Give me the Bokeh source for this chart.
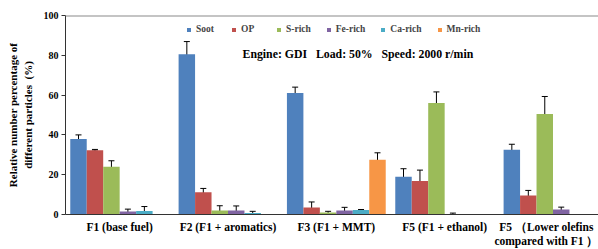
from bokeh.plotting import figure
from bokeh.models import (ColumnDataSource, Range1d, FixedTicker, Whisker, TeeHead,
                          Label, Legend, LegendItem, Span)
from bokeh.embed import file_html
from bokeh.resources import INLINE

# ---- data ----
categories = ["F1 (base fuel)", "F2 (F1 + aromatics)", "F3 (F1 + MMT)",
              "F5 (F1 + ethanol)", "F5 （Lower olefins\ncompared with F1 ）"]
series = ["Soot", "OP", "S-rich", "Fe-rich", "Ca-rich", "Mn-rich"]

soot = [38.0, 80.5, 61.0, 19.0, 32.5]
soot_err = [2.0, 6.4, 3.0, 4.0, 2.8]
op = [32.3, 11.2, 3.5, 16.8, 9.5]
op_err = [0.4, 1.9, 2.8, 5.5, 2.6]
s_rich = [24.0, 2.0, 1.0, 56.0, 50.5]
s_rich_err = [3.0, 2.4, 0.6, 5.6, 8.8]
fe_rich = [1.5, 2.0, 2.0, 0.2, 2.5]
fe_rich_err = [1.2, 2.3, 1.6, 0.5, 1.2]
ca_rich = [1.7, 0.8, 2.2, 0.0, 0.0]
ca_rich_err = [2.3, 0.8, 0.3, 0.0, 0.0]
mn_rich = [0.0, 0.0, 27.5, 0.0, 0.0]
mn_rich_err = [0.0, 0.0, 3.5, 0.0, 0.0]

values = [soot, op, s_rich, fe_rich, ca_rich, mn_rich]
errors = [soot_err, op_err, s_rich_err, fe_rich_err, ca_rich_err, mn_rich_err]
colors = ["#4F81BD", "#C0504D", "#9BBB59", "#8064A2", "#4BACC6", "#F79646"]

FONT = "Liberation Serif"
NB = "\u00a0"

p = figure(width=598, height=249, output_backend="svg", toolbar_location=None,
           x_range=Range1d(0, 4.92), y_range=Range1d(0, 100),
           min_border_left=65, min_border_right=0, min_border_top=15,
           min_border_bottom=35)
p.outline_line_color = None
p.xgrid.visible = False
p.ygrid.visible = False

bw = 0.152
items = []
for k, (name, vals, errs, col) in enumerate(zip(series, values, errors, colors)):
    xs = [i + 0.5 + (k - 2.5) * bw for i in range(len(categories))]
    src = ColumnDataSource(dict(x=xs, top=vals))
    r = p.vbar(x="x", top="top", width=bw, bottom=0, source=src,
               fill_color=col, line_color=None)
    items.append(LegendItem(label=name, renderers=[r]))
    ex = [x for x, e in zip(xs, errs) if e > 0]
    ev = [v for v, e in zip(vals, errs) if e > 0]
    ee = [e for e in errs if e > 0]
    if ex:
        wsrc = ColumnDataSource(dict(base=ex, upper=[v + e for v, e in zip(ev, ee)],
                                     lower=[max(v - e, 0) for v, e in zip(ev, ee)]))
        w = Whisker(base="base", upper="upper", lower="lower", source=wsrc,
                    line_color="black", line_width=1,
                    upper_head=TeeHead(size=6, line_color="black", line_width=1),
                    lower_head=TeeHead(size=6, line_color="black", line_width=1))
        p.add_layout(w)

legend = Legend(items=items, orientation="horizontal", location=(121, 180),
                glyph_width=5, glyph_height=5, label_standoff=5, spacing=15,
                padding=0, margin=0, border_line_color=None,
                background_fill_alpha=0,
                label_text_font=FONT, label_text_font_style="bold",
                label_text_font_size="9.5px", label_height=10)
p.add_layout(legend)

p.add_layout(Span(location=100, dimension="width", line_color="#8a8a8a", line_width=2))

p.add_layout(Label(x=1.634, y=80.5,
                   text="Engine:" + NB + "GDI" + NB * 3 + "Load:" + NB + "50%" + NB * 3
                        + "Speed:" + NB + "2000" + NB + "r/min",
                   text_font=FONT, text_font_style="bold", text_font_size="11.8px",
                   text_baseline="middle", text_color="black"))

# x axis
p.xaxis.ticker = FixedTicker(ticks=[i + 0.5 for i in range(len(categories))])
p.xaxis.major_label_overrides = {i + 0.5: c for i, c in enumerate(categories)}
p.xaxis.major_tick_line_color = None
p.xaxis.minor_tick_line_color = None
p.xaxis.major_tick_out = 0
p.xaxis.major_tick_in = 0
p.xaxis.axis_line_color = "#333333"
p.xaxis.major_label_standoff = 6
p.xaxis.major_label_text_font = FONT
p.xaxis.major_label_text_font_style = "bold"
p.xaxis.major_label_text_font_size = "11.5px"
p.xaxis.major_label_text_color = "black"

# y axis
p.yaxis.ticker = FixedTicker(ticks=[0, 20, 40, 60, 80, 100])
p.yaxis.minor_tick_line_color = None
p.yaxis.major_tick_in = 0
p.yaxis.major_tick_out = 4
p.yaxis.axis_line_color = "#333333"
p.yaxis.major_tick_line_color = "#333333"
p.yaxis.major_label_standoff = 3
p.yaxis.major_label_text_font = FONT
p.yaxis.major_label_text_font_style = "bold"
p.yaxis.major_label_text_font_size = "10px"
p.yaxis.major_label_text_color = "black"
p.yaxis.axis_label = "Relative number percentage of\ndifferent particles" + NB * 2 + "(%)"
p.yaxis.axis_label_text_font = FONT
p.yaxis.axis_label_text_font_style = "bold"
p.yaxis.axis_label_text_font_size = "11px"
p.yaxis.axis_label_text_color = "black"
p.yaxis.axis_label_standoff = 7

open("out.html", "w").write(file_html(p, INLINE))
